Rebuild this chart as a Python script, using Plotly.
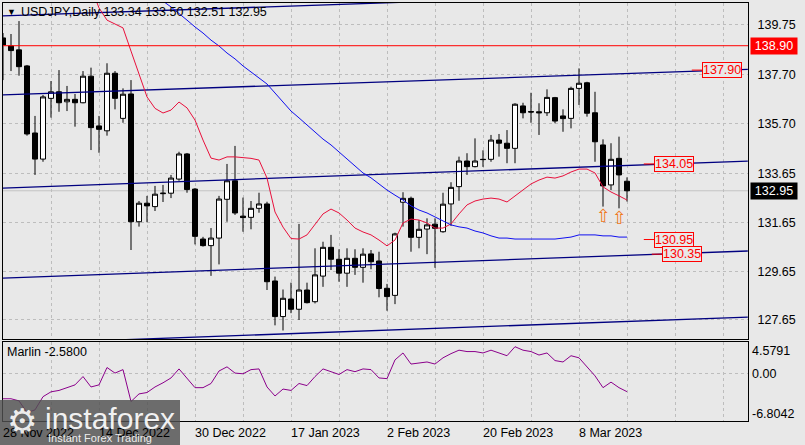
import plotly.graph_objects as go

# ---------------- data ----------------
symbol = "USDJPY,Daily"
date_labels = ["28 Nov 2022", "14 Dec 2022", "30 Dec 2022", "17 Jan 2023",
               "2 Feb 2023", "20 Feb 2023", "8 Mar 2023"]
date_label_bars = [0, 12, 24, 36, 48, 60, 72]
grid_bars = list(range(6, 93, 6))

opens = [139.22, 138.89, 138.73, 138.07, 135.32, 134.25, 136.74, 137.01, 136.60, 136.70,
         136.56, 137.65, 135.61, 135.41, 137.77, 135.92, 136.92, 131.68, 132.44, 132.30,
         132.83, 132.85, 133.43, 134.46, 133.02, 130.97, 130.70, 131.01, 132.60, 133.36,
         131.91, 131.86, 132.23, 132.41, 129.25, 127.79, 128.51, 128.09, 128.88, 128.40,
         129.45, 130.63, 130.14, 129.57, 130.18, 129.81, 130.36, 130.07, 128.95, 128.66,
         132.48, 132.64, 131.04, 131.38, 131.58, 131.27, 132.41, 133.12, 134.17, 133.94,
         134.24, 134.24, 135.03, 134.90, 134.69, 136.43, 136.20, 136.19, 136.15, 136.77,
         136.02, 135.92, 137.15, 137.38, 136.15, 134.83, 133.19, 134.28, 133.34]
highs = [139.42, 139.38, 139.91, 138.11, 136.02, 136.88, 137.45, 137.90, 137.25, 136.92,
         137.86, 138.00, 136.02, 138.18, 137.86, 137.15, 137.49, 132.53, 132.74, 133.15,
         133.19, 133.60, 134.55, 134.50, 133.06, 131.06, 131.42, 132.74, 134.05, 134.79,
         132.67, 132.53, 132.87, 132.50, 129.43, 128.90, 129.18, 131.59, 129.18, 130.59,
         130.86, 131.14, 130.55, 130.59, 130.55, 130.59, 130.52, 130.45, 129.13, 131.23,
         132.89, 132.71, 131.75, 131.82, 131.82, 132.87, 133.30, 134.35, 134.49, 135.10,
         134.61, 135.24, 135.28, 135.44, 136.54, 136.56, 136.97, 136.54, 137.11, 136.80,
         136.29, 137.22, 137.97, 137.42, 137.01, 135.06, 134.90, 135.17, 133.50]
lows = [137.49, 137.86, 137.67, 135.21, 133.60, 134.14, 135.95, 136.19, 136.22, 135.58,
        136.54, 134.62, 134.51, 135.21, 136.29, 135.74, 130.52, 131.48, 131.66, 132.12,
        132.49, 132.65, 133.36, 132.87, 130.75, 130.66, 129.46, 129.93, 131.68, 131.96,
        131.27, 131.37, 132.05, 128.88, 127.43, 127.22, 127.93, 127.65, 128.33, 128.33,
        129.01, 129.70, 129.22, 129.01, 129.50, 129.18, 129.73, 128.58, 128.03, 128.30,
        131.48, 130.45, 130.59, 130.35, 129.79, 131.23, 131.51, 132.54, 133.60, 133.91,
        133.93, 134.14, 134.35, 134.08, 134.08, 135.92, 135.74, 135.24, 136.02, 135.72,
        135.37, 135.51, 136.47, 135.99, 134.14, 132.30, 132.98, 132.23, 132.51]
closes = [138.93, 138.70, 138.04, 135.28, 134.25, 136.80, 137.01, 136.56, 136.70, 136.56,
          137.65, 135.54, 135.47, 137.77, 136.74, 136.91, 131.68, 132.44, 132.33, 132.81,
          132.85, 133.47, 134.46, 133.00, 131.08, 130.70, 131.01, 132.61, 133.36, 132.04,
          131.85, 132.23, 132.41, 129.22, 127.79, 128.54, 128.09, 128.88, 128.36, 129.50,
          130.63, 130.14, 129.57, 130.18, 129.81, 130.35, 130.04, 128.94, 128.61, 131.18,
          132.64, 131.04, 131.37, 131.55, 131.41, 132.40, 133.09, 134.17, 133.94, 134.17,
          134.23, 135.03, 134.90, 134.69, 136.50, 136.15, 136.18, 136.15, 136.78, 135.81,
          135.91, 137.15, 137.36, 136.13, 134.96, 133.15, 134.24, 133.60, 132.95]

red_ma_start = 11
red_ma = [141.30, 140.45, 139.95, 139.80, 139.63, 138.68, 137.70, 136.80, 136.33, 136.14,
          136.26, 136.59, 136.35, 135.85, 135.03, 134.29, 134.21, 134.34, 134.34, 134.32,
          134.28, 134.21, 133.47, 132.08, 131.46, 130.99, 130.97, 131.14, 131.55, 132.00,
          132.20, 132.04, 131.75, 131.42, 131.26, 131.14, 130.93, 130.69, 130.93, 131.63,
          131.79, 131.75, 131.63, 131.42, 131.42, 131.59, 132.00, 132.37, 132.53, 132.61,
          132.65, 132.61, 132.49, 132.74, 132.98, 133.23, 133.39, 133.51, 133.47, 133.56,
          133.72, 133.84, 133.84, 133.68, 133.11, 132.90, 132.74, 132.57]

blue_ma_start = 19
blue_ma = [141.02, 140.73, 140.49, 140.20, 139.95, 139.67, 139.42, 139.13, 138.89, 138.60,
           138.36, 138.07, 137.82, 137.58, 137.33, 136.96, 136.59, 136.22, 135.94, 135.65,
           135.36, 135.07, 134.83, 134.54, 134.25, 133.97, 133.68, 133.48, 133.23, 132.98,
           132.77, 132.57, 132.33, 132.16, 132.04, 131.87, 131.71, 131.55, 131.47, 131.42,
           131.30, 131.22, 131.10, 131.01, 131.01, 130.97, 130.97, 130.97, 130.97, 130.97,
           130.97, 131.01, 131.05, 131.14, 131.14, 131.14, 131.10, 131.10, 131.05, 131.05]

marlin = [-3.6, -3.6, -3.9, -5.6, -5.2, -3.3, -2.6, -2.4, -2.0, -1.6,
          -0.4, -1.9, -1.6, 0.9, 0.1, 0.6, -4.0, -2.9, -2.7, -1.9,
          -1.3, -0.6, 0.7, -0.6, -2.0, -2.0, -1.4, 0.4, 1.0, 0.1,
          0.0, 0.6, 0.7, -1.9, -3.2, -2.2, -2.4, -1.4, -1.7, -0.4,
          0.7, 0.3, -0.1, 0.6, 0.3, 0.7, 0.6, -0.6, -0.7, 2.0,
          3.0, 1.4, 1.6, 1.7, 1.4, 2.3, 2.9, 3.4, 3.2, 3.2,
          3.0, 3.4, 3.0, 2.6, 3.9, 3.4, 3.2, 2.7, 3.0, 1.9,
          1.7, 2.6, 2.3, 1.0, -0.3, -2.0, -1.2, -2.0, -2.58]

# trend / channel lines: (bar0, price0, bar1, price1)
channel_lines = [
    (0, 140.12, 93.1, 141.17),
    (0, 136.88, 93.1, 137.93),
    (0, 133.06, 93.1, 134.17),
    (0, 129.37, 93.1, 130.48),
    (0, 126.66, 93.1, 127.77),
]
resistance_level = 138.90
level_labels = [137.90, 134.05, 130.95, 130.35]
level_label_bars = [86.1, 80.1, 80.1, 81.1]
price_ticks = [127.65, 129.65, 131.65, 133.65, 135.70, 137.70, 139.75]
marlin_ticks = [4.5791, 0.00, -6.8042]
signal_bars = [75, 77]

# ---------------- figure ----------------
FONT = "Liberation Sans, Arial, sans-serif"
BG = "#E8E8E8"
GRID = "#BDBDBD"
W, H = 805, 445
ML, MR, MT, MB = 3, 57, 3, 24
PH = H - MT - MB
main_bottom = (H - MB - 339) / PH
ind_top = (H - MB - 342) / PH

bars = list(range(len(opens)))
fig = go.Figure()

fig.add_trace(go.Candlestick(
    x=bars, open=opens, high=highs, low=lows, close=closes,
    increasing=dict(line=dict(color="black", width=1), fillcolor="white"),
    decreasing=dict(line=dict(color="black", width=1), fillcolor="black"),
    whiskerwidth=0, hoverinfo="skip", showlegend=False, xaxis="x", yaxis="y"))

for (b0, p0, b1, p1) in channel_lines:
    fig.add_trace(go.Scatter(x=[b0, b1], y=[p0, p1], mode="lines",
                             line=dict(color="#000080", width=1.3),
                             hoverinfo="skip", showlegend=False, xaxis="x", yaxis="y"))

fig.add_trace(go.Scatter(x=list(range(red_ma_start, red_ma_start + len(red_ma))), y=red_ma,
                         mode="lines", line=dict(color="#E8103C", width=1),
                         hoverinfo="skip", showlegend=False, xaxis="x", yaxis="y"))
fig.add_trace(go.Scatter(x=list(range(blue_ma_start, blue_ma_start + len(blue_ma))), y=blue_ma,
                         mode="lines", line=dict(color="#1010F0", width=1),
                         hoverinfo="skip", showlegend=False, xaxis="x", yaxis="y"))

fig.add_trace(go.Scatter(x=bars, y=marlin, mode="lines",
                         line=dict(color="#8B008B", width=1),
                         hoverinfo="skip", showlegend=False, xaxis="x2", yaxis="y2"))

shapes = []
# resistance horizontal line and current price line
shapes.append(dict(type="line", xref="x domain", yref="y", x0=0, x1=1,
                   y0=resistance_level, y1=resistance_level,
                   line=dict(color="#FF0000", width=1), layer="above"))
shapes.append(dict(type="line", xref="x domain", yref="y", x0=0, x1=1,
                   y0=closes[-1], y1=closes[-1],
                   line=dict(color="#C4C4C4", width=1), layer="below"))
# logo background
shapes.append(dict(type="rect", xref="paper", yref="paper",
                   x0=-3 / 745, x1=(180 - 3) / 745,
                   y0=(H - MB - 445) / PH, y1=(H - MB - 400) / PH,
                   fillcolor="rgba(80,80,80,0.82)", line=dict(width=0), layer="above"))

ann = []
# header
ann.append(dict(xref="paper", yref="paper", x=(11 - 3) / 745, y=(H - MB - 12) / PH,
                text="▼", showarrow=False, xanchor="center", yanchor="middle",
                font=dict(family=FONT, size=9, color="black")))
ann.append(dict(xref="paper", yref="paper", x=(19 - 3) / 745, y=(H - MB - 12.5) / PH,
                text=f"{symbol} {opens[-1]:.2f} {highs[-1]:.2f} {lows[-1]:.2f} {closes[-1]:.2f}",
                showarrow=False, xanchor="left", yanchor="middle",
                font=dict(family=FONT, size=12.5, color="black")))
# level labels with leading dash
for lvl, b in zip(level_labels, level_label_bars):
    ann.append(dict(xref="x", yref="y", x=b, y=lvl, text=f"{lvl:.2f}",
                    showarrow=True, arrowhead=0, arrowwidth=1, arrowcolor="#FF0000",
                    ax=30, ay=0, standoff=0, startstandoff=0,
                    font=dict(family=FONT, size=12.5, color="#FF0000"),
                    bordercolor="#FF0000", borderwidth=1, borderpad=0, bgcolor=BG))
# right axis price boxes
ann.append(dict(xref="paper", yref="y", x=1, y=resistance_level, xanchor="left", xshift=2,
                text=f"{resistance_level:.2f}", showarrow=False, width=44, align="center",
                bgcolor="#FF0000", font=dict(family=FONT, size=12.5, color="white")))
ann.append(dict(xref="paper", yref="y", x=1, y=closes[-1], xanchor="left", xshift=2,
                text=f"{closes[-1]:.2f}", showarrow=False, width=44, align="center",
                bgcolor="black", font=dict(family=FONT, size=12.5, color="white")))
# signal arrows
for b in signal_bars:
    ann.append(dict(xref="x", yref="y", x=b, y=lows[b] - 0.38, text="⇧", showarrow=False,
                    xanchor="center", yanchor="middle",
                    font=dict(family="DejaVu Sans", size=18, color="#F07820")))
# indicator labels
ann.append(dict(xref="paper", yref="paper", x=(5 - 3) / 745, y=(H - MB - 352) / PH,
                text=f"Marlin {marlin[-1]:.4f}", showarrow=False, xanchor="left",
                yanchor="middle", font=dict(family=FONT, size=12.5, color="black")))
ind_px = [351, 374, 414]
for v, py in zip(marlin_ticks, ind_px):
    txt = f"{v:.4f}" if v != 0 else "0.00"
    ann.append(dict(xref="paper", yref="paper", x=1, xshift=2, y=(H - MB - py) / PH,
                    text=txt, showarrow=False, xanchor="left", yanchor="middle",
                    font=dict(family=FONT, size=12.5, color="black")))
# date labels
for lbl, b in zip(date_labels, date_label_bars):
    ann.append(dict(xref="x2", yref="paper", x=b, xshift=-2, y=(H - MB - 433) / PH,
                    text=lbl, showarrow=False, xanchor="left", yanchor="middle",
                    font=dict(family=FONT, size=12.5, color="black")))
# logo text
ann.append(dict(xref="paper", yref="paper", x=(22 - 3) / 745, y=(H - MB - 421) / PH,
                text="⚙", showarrow=False, xanchor="center", yanchor="middle",
                font=dict(family="DejaVu Sans", size=34, color="rgba(255,255,255,0.9)")))
ann.append(dict(xref="paper", yref="paper", x=(43 - 3) / 745, y=(H - MB - 418) / PH,
                text="instaforex", showarrow=False, xanchor="left", yanchor="middle",
                font=dict(family=FONT, size=30, color="rgba(255,255,255,0.92)")))
ann.append(dict(xref="paper", yref="paper", x=(46 - 3) / 745, y=(H - MB - 438) / PH,
                text="Instant Forex Trading", showarrow=False, xanchor="left", yanchor="middle",
                font=dict(family=FONT, size=11, color="rgba(255,255,255,0.9)")))

xr = [0, 93.125]
axis_common = dict(showline=True, mirror=True, linecolor="black", linewidth=1,
                   zeroline=False, fixedrange=True)
fig.update_layout(
    width=W, height=H, margin=dict(l=ML, r=MR, t=MT, b=MB),
    paper_bgcolor=BG, plot_bgcolor=BG, showlegend=False,
    boxgap=0.375, boxgroupgap=0,
    font=dict(family=FONT, size=12.5, color="black"),
    xaxis=dict(domain=[0, 1], anchor="y", range=xr, tickvals=grid_bars,
               showticklabels=False, ticks="", showgrid=True, gridcolor=GRID,
               griddash="3px,3px", gridwidth=1, rangeslider=dict(visible=False),
               **axis_common),
    yaxis=dict(domain=[main_bottom, 1], anchor="x", side="right",
               range=[126.870, 140.652], tickvals=price_ticks,
               ticktext=[f"{p:.2f}" for p in price_ticks], ticks="",
               ticklabelstandoff=6, showgrid=True, gridcolor=GRID,
               griddash="3px,3px", gridwidth=1,
               tickfont=dict(family=FONT, size=12.5, color="black"), **axis_common),
    xaxis2=dict(domain=[0, 1], anchor="y2", range=xr, tickvals=grid_bars,
                showticklabels=False, ticks="", showgrid=True, gridcolor=GRID,
                griddash="3px,3px", gridwidth=1, **axis_common),
    yaxis2=dict(domain=[0, ind_top], anchor="x2", side="right",
                range=[marlin_ticks[2], marlin_ticks[0]], tickvals=[0],
                showticklabels=False, ticks="", showgrid=True, gridcolor=GRID,
                griddash="3px,3px", gridwidth=1, **axis_common),
    shapes=shapes, annotations=ann,
)

fig.write_html("out.html", config={"displayModeBar": False})
